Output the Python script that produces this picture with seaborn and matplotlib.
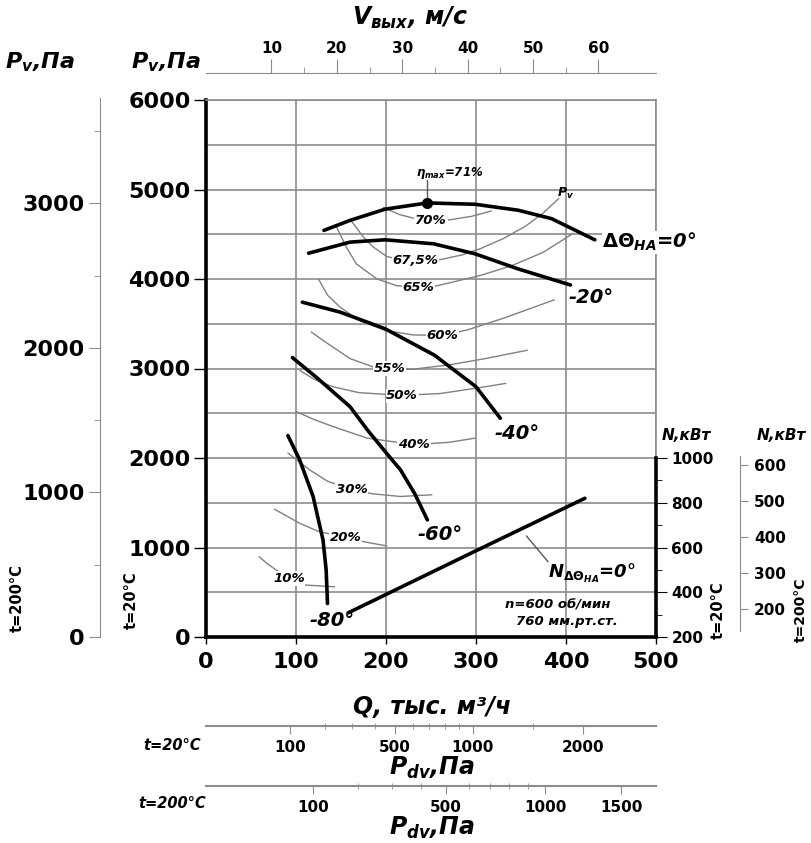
import numpy as np
import pandas as pd
import matplotlib
matplotlib.use("Agg")
import matplotlib.pyplot as plt
import seaborn as sns

sns.set_style("white")
plt.rcParams["font.family"] = ["DejaVu Sans"]
plt.rcParams["font.weight"] = "bold"
plt.rcParams["text.color"] = "black"
plt.rcParams["xtick.color"] = "black"
plt.rcParams["ytick.color"] = "black"
plt.rcParams["mathtext.fontset"] = "custom"
plt.rcParams["mathtext.it"] = "DejaVu Sans:italic:bold"
plt.rcParams["mathtext.rm"] = "DejaVu Sans:bold"
plt.rcParams["mathtext.bf"] = "DejaVu Sans:bold"

# --- pressure curves for guide vane angle, Q (thous. m3/h) vs Pv (Pa)
q_0 = [131, 160, 199, 246, 299, 347, 384, 432]
p_0 = [4543, 4655, 4780, 4850, 4835, 4768, 4674, 4438]
q_20 = [114, 160, 199, 253, 299, 347, 405]
p_20 = [4288, 4412, 4438, 4393, 4281, 4112, 3933]
q_40 = [107, 149, 199, 254, 300, 327]
p_40 = [3741, 3630, 3444, 3148, 2796, 2444]
q_60 = [96, 122, 160, 179, 200, 216, 232, 246]
p_60 = [3122, 2907, 2574, 2318, 2060, 1869, 1600, 1308]
q_80 = [91, 104, 119, 130, 133.5, 135]
p_80 = [2250, 1981, 1570, 1084, 750, 374]

# --- efficiency contours
q_e70 = [197, 215, 235, 250, 270, 295, 317]
p_e70 = [4800, 4720, 4668, 4655, 4660, 4700, 4760]
q_e675 = [161, 175, 186, 201, 220, 257, 285, 305, 330, 355, 375, 392]
p_e675 = [4655, 4468, 4356, 4251, 4208, 4210, 4270, 4340, 4450, 4590, 4740, 4900]
q_e65 = [145, 156, 167, 190, 212, 236, 257, 305, 340, 375, 408]
p_e65 = [4580, 4356, 4169, 4000, 3925, 3906, 3925, 4040, 4150, 4300, 4510]
q_e60 = [125, 135, 149, 170, 199, 230, 262, 290, 330, 387]
p_e60 = [4000, 3820, 3685, 3540, 3426, 3375, 3370, 3430, 3560, 3767]
q_e55 = [117, 135, 160, 185, 204, 228, 270, 310, 357]
p_e55 = [3407, 3280, 3111, 3020, 3000, 2990, 3040, 3110, 3204]
q_e50 = [104, 120, 141, 170, 218, 260, 300, 333]
p_e50 = [2981, 2880, 2796, 2730, 2700, 2720, 2780, 2833]
q_e40 = [100, 120, 141, 179, 231, 270, 299]
p_e40 = [2519, 2430, 2352, 2222, 2150, 2175, 2222]
q_e30 = [91, 103, 115, 135, 162, 185, 216, 251]
p_e30 = [2056, 1960, 1869, 1740, 1652, 1600, 1570, 1589]
q_e20 = [76, 90, 104, 125, 155, 175, 201]
p_e20 = [1428, 1350, 1271, 1180, 1114, 1065, 1017]
q_e10 = [59, 68, 78, 92, 111, 143]
p_e10 = [897, 820, 748, 660, 580, 561]

# --- power curve, Q vs N (kW at 20 C)
q_n = [158, 290, 421]
n_n = [308, 566, 820]

# --- efficiency labels: text, Q, P
eff_labels = ["70%", "67,5%", "65%", "60%", "55%", "50%", "40%", "30%", "20%", "10%"]
eff_q = [250, 233, 236, 263, 204, 218, 231, 162, 155, 92]
eff_p = [4655, 4206, 3906, 3370, 3000, 2693, 2148, 1652, 1114, 654]

# --- angle labels: text, Q (left edge), P
ang_labels = [r"$\Delta\Theta_{HA}$=0°", "-20°", "-40°", "-60°", "-80°"]
ang_q = [440, 403, 321, 235, 115]
ang_p = [4412, 3794, 2278, 1140, 187]

eta_q, eta_p = [246], [4850]

# --- secondary scales
rho_ratio = 0.619          # density 200 C / 20 C
v_per_q = 0.1376           # outlet velocity m/s per thous. m3/h
pdv20_max = 2843           # dynamic pressure at Q = 500
v_major = [10, 20, 30, 40, 50, 60]
v_minor = [15, 25, 35, 45, 55]
pdv20_major = [100, 500, 1000, 2000]
pdv20_minor = [200, 300, 400, 600, 700, 800, 900, 1500]
pdv200_major = [100, 500, 1000, 1500]
pdv200_minor = [200, 300, 400, 600, 700, 800, 900]
n20_major = [200, 400, 600, 800, 1000]
n20_minor = [300, 500, 700, 900]
n200_major = [200, 300, 400, 500, 600]
p200_major = [0, 1000, 2000, 3000]
p200_minor = [500, 1500, 2500, 3500]

W, H = 811, 843
fig = plt.figure(figsize=(W / 100, H / 100), dpi=100)
ax = fig.add_axes([206 / W, 1 - 637 / H, 450 / W, 537 / H])
GRID = "#8c8c8c"
SEC = "#8c8c8c"

thick = [(q_0, p_0), (q_20, p_20), (q_40, p_40), (q_60, p_60), (q_80, p_80)]
for qs, ps in thick:
    sns.lineplot(data=pd.DataFrame({"Q": qs, "P": ps}), x="Q", y="P", sort=False,
                 estimator=None, color="black", lw=2.6, ax=ax, zorder=4)

thin = [(q_e70, p_e70), (q_e675, p_e675), (q_e65, p_e65), (q_e60, p_e60), (q_e55, p_e55),
        (q_e50, p_e50), (q_e40, p_e40), (q_e30, p_e30), (q_e20, p_e20), (q_e10, p_e10)]
for qs, ps in thin:
    sns.lineplot(data=pd.DataFrame({"Q": qs, "P": ps}), x="Q", y="P", sort=False,
                 estimator=None, color="#808080", lw=1.0, ax=ax, zorder=3)

ax.set_xlabel("")
ax.set_ylabel("")
ax.set_xlim(0, 500)
ax.set_ylim(0, 6000)
ax.set_xticks(range(0, 501, 100))
ax.set_yticks(range(0, 6001, 1000))
ax.set_yticks(range(500, 6000, 1000), minor=True)
ax.set_axisbelow(True)
ax.grid(True, which="both", color=GRID, lw=1.2)
ax.tick_params(axis="y", which="major", length=9, width=1, pad=2, labelsize=16, left=True)
ax.tick_params(axis="x", which="major", length=5, width=1, pad=6, labelsize=16, bottom=True)
ax.tick_params(which="minor", length=0)
for s in ["left", "bottom"]:
    ax.spines[s].set_linewidth(2.6)
    ax.spines[s].set_color("black")
for s in ["top", "right"]:
    ax.spines[s].set_linewidth(1.2)
    ax.spines[s].set_color(GRID)

ax.plot(eta_q, eta_p, "o", color="black", ms=7, zorder=5)
ax.plot([eta_q[0], eta_q[0]], [eta_p[0], 5105], color="#555555", lw=1, zorder=3)
ax.text(271, 5187, r"$\eta_{max}$=71%", fontsize=8.5, style="italic", ha="center", va="center")
ax.text(400, 4955, r"$P_v$", fontsize=9, ha="center", va="center")

for t, q, p in zip(eff_labels, eff_q, eff_p):
    ax.text(q, p, t, fontsize=9.5, style="italic", ha="center", va="center", zorder=6,
            bbox=dict(facecolor="white", edgecolor="none", pad=0.6))
for t, q, p in zip(ang_labels, ang_q, ang_p):
    ax.text(q, p, t, fontsize=14, style="italic", ha="left", va="center", zorder=6,
            bbox=dict(facecolor="white", edgecolor="none", pad=0.3))

ax.plot([356, 380], [1129, 841], color="#555555", lw=1, zorder=3)
ax.text(380, 710, r"$N_{\Delta\Theta_{HA}}$=0°", fontsize=13, style="italic", ha="left", va="center")
ax.text(391, 355, "n=600 об/мин", fontsize=9.5, style="italic", ha="center", va="center")
ax.text(401, 168, "760 мм.рт.ст.", fontsize=9.5, style="italic", ha="center", va="center")

# power axis at 20 C (right spine, lower part)
ax_n = ax.twinx()
sns.lineplot(data=pd.DataFrame({"Q": q_n, "N": n_n}), x="Q", y="N", sort=False,
             estimator=None, color="black", lw=2.6, ax=ax_n, zorder=4)
ax_n.set_ylim(200, 200 + 0.4 * 6000)
ax_n.set_xlim(0, 500)
ax_n.set_ylabel("")
ax_n.set_yticks(n20_major)
ax_n.set_yticks(n20_minor, minor=True)
ax_n.tick_params(axis="y", which="major", length=8, pad=3, labelsize=11, right=True)
ax_n.tick_params(axis="y", which="minor", length=4, right=True)
for s in ["left", "top", "bottom"]:
    ax_n.spines[s].set_visible(False)
ax_n.spines["right"].set_bounds(200, 1000)
ax_n.spines["right"].set_linewidth(2.6)
ax_n.spines["right"].set_color("black")

# power axis at 200 C
ax_n2 = ax.twinx()
ax_n2.set_ylim(200 * rho_ratio, 2600 * rho_ratio)
ax_n2.set_yticks(n200_major)
for s in ["left", "top", "bottom"]:
    ax_n2.spines[s].set_visible(False)
ax_n2.spines["right"].set_position(("axes", (740 - 206) / 450))
ax_n2.spines["right"].set_bounds(140, 625)
ax_n2.spines["right"].set_color(SEC)
ax_n2.tick_params(axis="y", length=6, pad=4, labelsize=11, color=SEC, right=True)

# pressure axis at 200 C (far left)
ax_p2 = ax.twinx()
ax_p2.set_ylim(0, 6000 * rho_ratio)
ax_p2.yaxis.set_ticks_position("left")
ax_p2.set_yticks(p200_major)
ax_p2.set_yticks(p200_minor, minor=True)
for s in ["right", "top", "bottom"]:
    ax_p2.spines[s].set_visible(False)
ax_p2.spines["left"].set_visible(True)
ax_p2.spines["left"].set_position(("axes", (100 - 206) / 450))
ax_p2.spines["left"].set_bounds(0, 3730)
ax_p2.spines["left"].set_color(SEC)
ax_p2.tick_params(axis="y", which="major", length=8, pad=3, labelsize=16, color=SEC, left=True)
ax_p2.tick_params(axis="y", which="minor", length=4, color=SEC, left=True)

# outlet velocity axis (top)
ax_v = ax.twiny()
ax_v.set_xlim(0, 500 * v_per_q)
ax_v.set_xticks(v_major)
ax_v.set_xticks(v_minor, minor=True)
for s in ["right", "left", "bottom"]:
    ax_v.spines[s].set_visible(False)
ax_v.spines["top"].set_position(("axes", (637 - 73) / 537))
ax_v.spines["top"].set_color(SEC)
ax_v.tick_params(axis="x", which="major", length=10, pad=2, labelsize=11, color=SEC, top=True)
ax_v.tick_params(axis="x", which="minor", length=4, color=SEC, top=True)


def fwd(x):
    return np.sqrt(np.clip(x, 0, None))


def inv(x):
    return np.square(x)


# dynamic pressure axes (bottom), quadratic in Q
for pmax, major, minor, py in [(pdv20_max, pdv20_major, pdv20_minor, 726),
                               (pdv20_max * rho_ratio, pdv200_major, pdv200_minor, 786)]:
    axd = ax.twiny()
    axd.set_xscale("function", functions=(fwd, inv))
    axd.set_xlim(0, pmax)
    axd.xaxis.set_ticks_position("bottom")
    axd.set_xticks(major)
    axd.set_xticklabels([str(m) for m in major])
    axd.set_xticks(minor, minor=True)
    axd.set_xticklabels([], minor=True)
    for s in ["right", "left", "top"]:
        axd.spines[s].set_visible(False)
    axd.spines["bottom"].set_visible(True)
    axd.spines["bottom"].set_position(("axes", (637 - py) / 537))
    axd.spines["bottom"].set_color(SEC)
    axd.spines["bottom"].set_linewidth(1.5)
    axd.tick_params(axis="x", which="major", length=6, pad=4, labelsize=11, color=SEC, bottom=True)
    axd.tick_params(axis="x", which="minor", direction="inout", length=5, color=SEC, bottom=True)


# headers and axis titles
def ftext(px, py, s, **kw):
    fig.text(px / W, 1 - py / H, s, ha="center", va="center", **kw)


ftext(40, 62, r"$P_v$,Па", fontsize=16, style="italic")
ftext(166, 62, r"$P_v$,Па", fontsize=16, style="italic")
ftext(410, 18, r"$V_{вых}$, м/с", fontsize=17, style="italic")
ftext(432, 707, "Q, тыс. м³/ч", fontsize=17, style="italic")
ftext(432, 768, r"$P_{dv}$,Па", fontsize=17, style="italic")
ftext(432, 828, r"$P_{dv}$,Па", fontsize=17, style="italic")
ftext(172, 745, "t=20°C", fontsize=10.5, style="italic")
ftext(172, 803, "t=200°C", fontsize=10.5, style="italic")
ftext(131, 600, "t=20°C", fontsize=10.5, rotation=90)
ftext(17, 598, "t=200°C", fontsize=10.5, rotation=90)
ftext(718, 610, "t=20°C", fontsize=10.5, rotation=90)
ftext(801, 610, "t=200°C", fontsize=10, rotation=90)
ftext(686, 435, "N,кВт", fontsize=11, style="italic")
ftext(781, 435, "N,кВт", fontsize=11, style="italic")

fig.savefig("out.png", dpi=100)
